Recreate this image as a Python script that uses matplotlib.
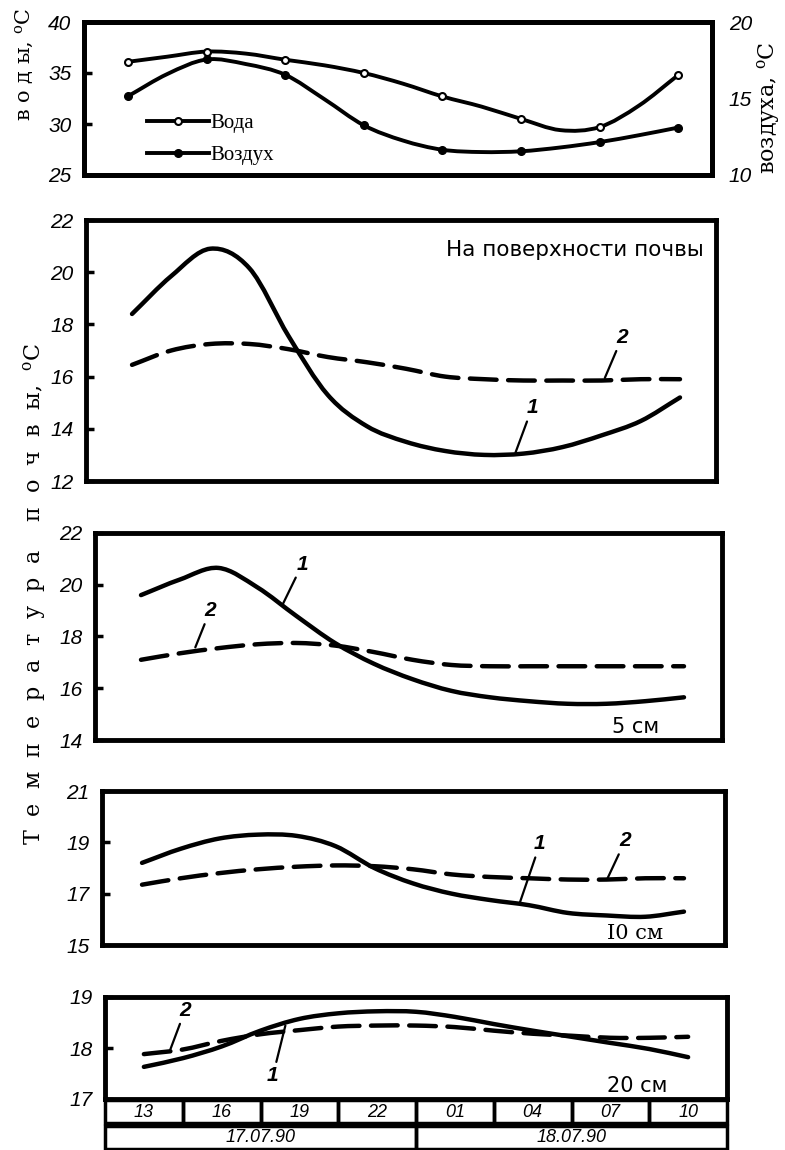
import numpy as np
import matplotlib.pyplot as plt
from matplotlib.lines import Line2D
from matplotlib.patches import Rectangle, PathPatch
from matplotlib.path import Path

plt.rcParams['mathtext.fontset'] = 'dejavuserif'

# time axis (3-hour steps), two dates
hours = ["13", "16", "19", "22", "01", "04", "07", "10"]
dates = ["17.07.90", "18.07.90"]
pos = np.arange(len(hours))
pos_half = np.arange(0, len(hours) - 0.5, 0.5)

# top panel: water (left axis) and air (right axis)
water_pts = [36.1, 37.1, 36.3, 35.0, 32.7, 30.5, 29.7, 34.8]
water_line = [36.1, 36.6, 37.1, 36.9, 36.3, 35.75, 35.0, 33.95, 32.7, 31.7, 30.5, 29.4, 29.7, 31.8, 34.8]
air_pts = [15.15, 17.55, 16.55, 13.25, 11.65, 11.55, 12.15, 13.1]
air_line = [15.15, 16.6, 17.55, 17.25, 16.55, 14.95, 13.25, 12.25, 11.65, 11.5, 11.55, 11.8, 12.15, 12.6, 13.1]

# soil temperature, curves 1 (solid) and 2 (dashed), every 1.5 h
surf_1 = [18.4, 19.85, 20.9, 20.15, 17.55, 15.3, 14.1, 13.5, 13.15, 13.0, 13.05, 13.3, 13.75, 14.3, 15.2]
surf_2 = [16.45, 17.0, 17.25, 17.25, 17.05, 16.75, 16.55, 16.3, 16.0, 15.9, 15.85, 15.85, 15.85, 15.9, 15.9]
cm5_1 = [19.6, 20.2, 20.65, 19.9, 18.8, 17.75, 16.95, 16.35, 15.9, 15.65, 15.5, 15.4, 15.4, 15.5, 15.65]
cm5_2 = [17.1, 17.35, 17.55, 17.7, 17.75, 17.65, 17.4, 17.1, 16.9, 16.85, 16.85, 16.85, 16.85, 16.85, 16.85]
cm10_1 = [18.2, 18.75, 19.15, 19.3, 19.25, 18.85, 18.0, 17.4, 17.0, 16.75, 16.55, 16.25, 16.15, 16.1, 16.3]
cm10_2 = [17.35, 17.6, 17.8, 17.95, 18.05, 18.1, 18.07, 17.95, 17.75, 17.65, 17.6, 17.55, 17.55, 17.6, 17.6]
cm20_1 = [17.63, 17.8, 18.03, 18.34, 18.57, 18.68, 18.72, 18.71, 18.61, 18.47, 18.34, 18.22, 18.1, 17.98, 17.82]
cm20_2 = [17.88, 17.97, 18.14, 18.27, 18.35, 18.42, 18.44, 18.44, 18.41, 18.34, 18.28, 18.24, 18.2, 18.2, 18.22]

W, H = 785, 1150
fig = plt.figure(figsize=(W / 100, H / 100), dpi=100)

tickfont = dict(family='Liberation Sans', style='italic', size=15)
serif = 'DejaVu Serif'
dash = (0, (6, 2.6))


def box(x0, x1, y0, y1):
    return [x0 / W, 1 - y1 / H, (x1 - x0) / W, (y1 - y0) / H]


def spaced(word, n):
    return (" " * n).join(word)


def frame(ax, lw=3.5):
    for s in ax.spines.values():
        s.set_linewidth(lw)
    ax.set_xticks([])


def yticks(ax, ticks):
    ax.set_yticks(ticks, [str(t) for t in ticks], **tickfont)
    ax.tick_params(axis='y', direction='in', length=6, width=2.5, pad=9)


def smooth(ax, x, y, **kw):
    # curve through every read point (Catmull-Rom drawn as cubic Bezier)
    x = np.asarray(x, float)
    y = np.asarray(y, float)
    px = np.concatenate([[2 * x[0] - x[1]], x, [2 * x[-1] - x[-2]]])
    py = np.concatenate([[2 * y[0] - y[1]], y, [2 * y[-1] - y[-2]]])
    verts = [(x[0], y[0])]
    for i in range(1, len(px) - 2):
        verts.append((px[i] + (px[i + 1] - px[i - 1]) / 6, py[i] + (py[i + 1] - py[i - 1]) / 6))
        verts.append((px[i + 1] - (px[i + 2] - px[i]) / 6, py[i + 1] - (py[i + 2] - py[i]) / 6))
        verts.append((px[i + 1], py[i + 1]))
    codes = [Path.MOVETO] + [Path.CURVE4] * (len(verts) - 1)
    ax.add_patch(PathPatch(Path(verts, codes), fill=False, color='k', capstyle='round', **kw))


def mark(ax, txt, label_xy, line_xy):
    ax.annotate(txt, xy=line_xy, xytext=label_xy, ha='center', va='center',
                family='Liberation Sans', style='italic', weight='bold', size=15,
                arrowprops=dict(arrowstyle='-', lw=1.6, color='k', shrinkA=1, shrinkB=0))


# --- top panel: water / air
ax1 = fig.add_axes(box(84, 712, 22, 175))
smooth(ax1, pos_half, water_line, lw=2.8)
ax1.plot(pos, water_pts, 'o', ms=5, mfc='white', mec='k', mew=1.5)
ax1.set_xlim(-0.56, 7.43)
ax1.set_ylim(25, 40)
frame(ax1)
yticks(ax1, [25, 30, 35, 40])
ax2 = ax1.twinx()
smooth(ax2, pos_half, air_line, lw=2.8)
ax2.plot(pos, air_pts, 'o', ms=5.5, color='k')
ax2.set_ylim(10, 20)
ax2.set_yticks([10, 15, 20], ["10", "15", "20"], **tickfont)
ax2.tick_params(axis='y', length=0, pad=12)
frame(ax2)
handles = [Line2D([], [], color='k', lw=2.8, marker='o', ms=5, mfc='white', mec='k', mew=1.5, label='Вода'),
           Line2D([], [], color='k', lw=2.8, marker='o', ms=5.5, label='Воздух')]
ax2.legend(handles=handles, loc='lower left', bbox_to_anchor=(0.07, -0.06), frameon=False,
           handlelength=3.0, handletextpad=0.05, labelspacing=0.6,
           prop=dict(family='Liberation Serif', size=15))

fig.text(25 / W, 1 - 64 / H, spaced("воды", 1) + ", $^{\\mathrm{o}}$C", rotation=90, ha='center',
         va='center', family=serif, size=15)
fig.text(768 / W, 1 - 108 / H, "воздуха, $^{\\mathrm{o}}$C", rotation=90, ha='center', va='center',
         family=serif, size=16)


def soil(rect, xlim, ylim, ticks, s1, s2):
    ax = fig.add_axes(rect)
    smooth(ax, pos_half, s1, lw=3.2)
    smooth(ax, pos_half, s2, lw=3.2, ls=dash)
    ax.set_xlim(xlim)
    ax.set_ylim(ylim)
    frame(ax)
    yticks(ax, ticks)
    return ax


ax_s = soil(box(86, 716, 220, 481), (-0.588, 7.46), (12, 22), [12, 14, 16, 18, 20, 22], surf_1, surf_2)
ax_s.text(7.3, 20.85, "На поверхности почвы", ha='right', va='center', family='DejaVu Sans', size=15.5)
mark(ax_s, '2', (6.26, 17.5), (6.04, 15.95))
mark(ax_s, '1', (5.11, 14.8), (4.9, 13.1))

ax5 = soil(box(95, 722, 533, 740), (-0.593, 7.49), (14, 22), [14, 16, 18, 20, 22], cm5_1, cm5_2)
ax5.text(6.37, 14.5, "5 см", ha='center', va='center', family='DejaVu Sans', size=15)
mark(ax5, '1', (2.08, 20.8), (1.82, 19.2))
mark(ax5, '2', (0.89, 19.0), (0.70, 17.58))

ax10 = soil(box(102, 725, 791, 945), (-0.517, 7.53), (15, 21), [15, 17, 19, 21], cm10_1, cm10_2)
ax10.text(6.37, 15.45, "I0 см", ha='center', va='center', family='DejaVu Serif', size=15)
mark(ax10, '1', (5.14, 18.94), (4.88, 16.65))
mark(ax10, '2', (6.24, 19.06), (6.01, 17.58))

ax20 = soil(box(105, 727, 997, 1099), (-0.5, 7.5), (17, 19), [17, 18, 19], cm20_1, cm20_2)
ax20.text(6.34, 17.26, "20 см", ha='center', va='center', family='DejaVu Sans', size=15)
mark(ax20, '2', (0.53, 18.74), (0.34, 17.97))
mark(ax20, '1', (1.66, 17.46), (1.82, 18.44))

fig.text(35 / W, 1 - 594 / H, spaced("Температура", 2) + "    " + spaced("почвы", 2) + ",  $^{\\mathrm{o}}$C",
         rotation=90, ha='center', va='center', family=serif, size=16)

# time table under the last panel
axt = fig.add_axes(box(105, 727, 1100, 1149))
axt.set_xlim(-0.5, 7.5)
axt.set_ylim(0, 2)
axt.axis('off')
for i, h in enumerate(hours):
    axt.add_patch(Rectangle((i - 0.5, 1.05), 1, 0.95, fill=False, lw=2.5, clip_on=False))
    axt.text(i, 1.5, h, ha='center', va='center', family='Liberation Sans', style='italic', size=13)
for j, d in enumerate(dates):
    axt.add_patch(Rectangle((j * 4 - 0.5, 0), 4, 0.95, fill=False, lw=2.5, clip_on=False))
    axt.text(j * 4 + 1.5, 0.45, d, ha='center', va='center', family='Liberation Sans', style='italic', size=13)

fig.savefig("out.png", dpi=100)
